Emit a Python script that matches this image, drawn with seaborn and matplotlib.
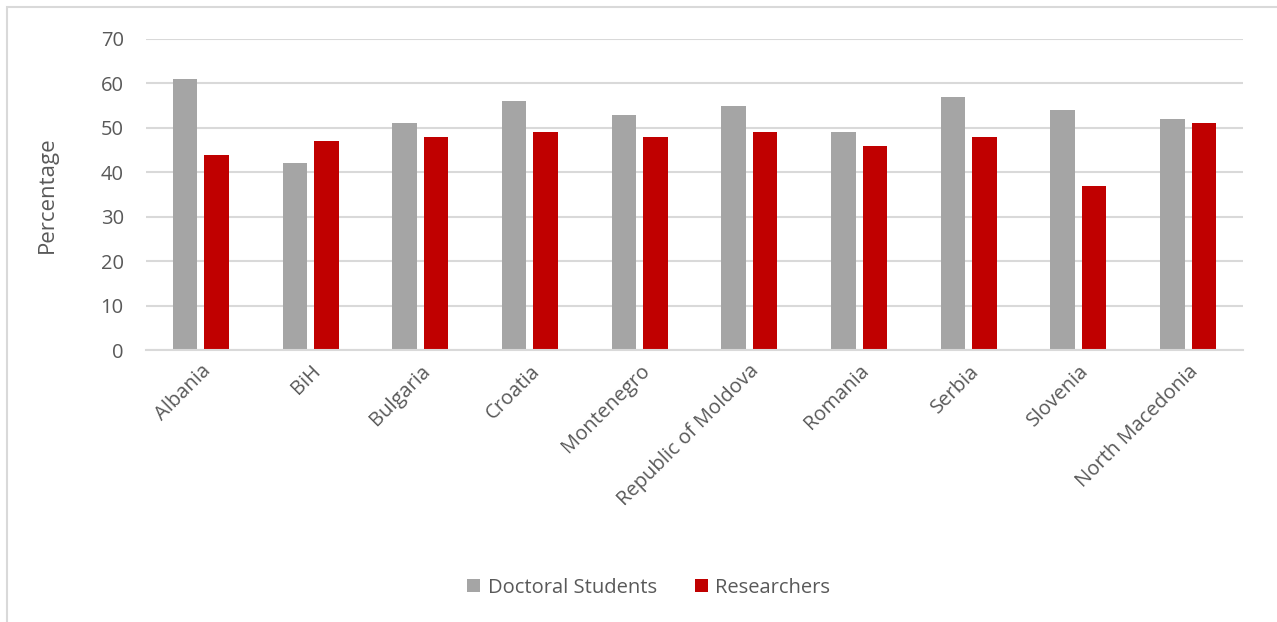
import matplotlib
matplotlib.use("Agg")
import matplotlib.pyplot as plt
import seaborn as sns
import pandas as pd
from matplotlib.patches import Rectangle

countries = ["Albania", "BiH", "Bulgaria", "Croatia", "Montenegro",
             "Republic of Moldova", "Romania", "Serbia", "Slovenia", "North Macedonia"]
doctoral_students = [61, 42, 51, 56, 53, 55, 49, 57, 54, 52]
researchers = [44, 47, 48, 49, 48, 49, 46, 48, 37, 51]
series_names = ["Doctoral Students", "Researchers"]
y_ticks = [0, 10, 20, 30, 40, 50, 60, 70]

df = pd.DataFrame({
    "Country": countries * 2,
    "Group": [series_names[0]] * len(countries) + [series_names[1]] * len(countries),
    "Value": doctoral_students + researchers,
})

sns.set_theme(style="white")
plt.rcParams["font.family"] = ["Open Sans", "DejaVu Sans"]
text_color = "#595959"
grid_color = "#d9d9d9"

fig = plt.figure(figsize=(12.77, 6.22), dpi=100)
ax = fig.add_axes([146 / 1277, 1 - 350 / 622, (1243 - 146) / 1277, (350 - 39) / 622])

sns.barplot(data=df, x="Country", y="Value", hue="Group", order=countries,
            hue_order=series_names, palette=["#a5a5a5", "#c00000"],
            width=0.574, gap=0.22, saturation=1, linewidth=0, ax=ax, legend=True)

ax.set_ylim(0, 70)
ax.set_xlim(-0.5, len(countries) - 0.5)
ax.set_yticks(y_ticks)
ax.yaxis.grid(True, color=grid_color, linewidth=1.5)
ax.set_axisbelow(True)
for side in ["top", "right", "left"]:
    ax.spines[side].set_visible(False)
ax.spines["bottom"].set_color(grid_color)
ax.spines["bottom"].set_linewidth(1.5)
ax.tick_params(axis="both", length=0, colors=text_color, labelsize=14.5)
ax.tick_params(axis="y", pad=16)
ax.tick_params(axis="x", pad=8)
plt.setp(ax.get_xticklabels(), rotation=45, ha="right", rotation_mode="anchor")

ax.set_xlabel("")
ax.set_ylabel("Percentage", fontsize=16, color=text_color, labelpad=31)

ax.legend_.remove()
handles, labels = ax.get_legend_handles_labels()
fig.legend(handles, labels, loc="center", bbox_to_anchor=(0.508, 0.055), ncol=2,
           frameon=False, fontsize=14.5, labelcolor=text_color, handlelength=0.65,
           handleheight=0.65, handletextpad=0.35, columnspacing=1.9)

# light chart-area border
fig.patches.append(Rectangle((7 / 1277, -0.1), 1.2, (615 / 622) + 0.1,
                             transform=fig.transFigure, fill=False,
                             edgecolor=grid_color, linewidth=1.5))

fig.savefig("out.png", dpi=100)
